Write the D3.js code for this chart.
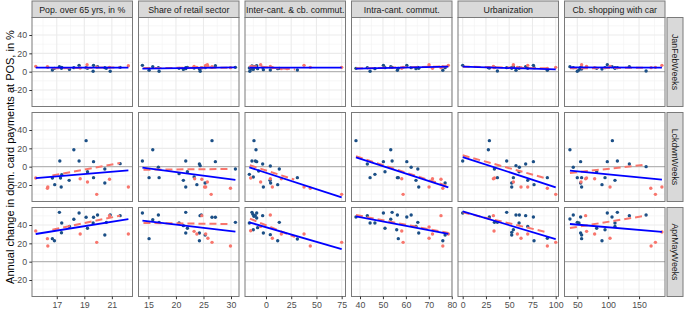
<!DOCTYPE html>
<html><head><meta charset="utf-8">
<script src="https://cdn.jsdelivr.net/npm/d3@7"></script>
<style>body{margin:0;background:#fff}svg{display:block;font-family:"Liberation Sans",Arial,sans-serif}</style>
</head><body><div id="chart"></div>
<script>
// ---- Data ----
const variables = ["Pop. over 65 yrs, in %","Share of retail sector","Inter-cant. & cb. commut.","Intra-cant. commut.","Urbanization","Cb. shopping with car"];
const periods = ["JanFebWeeks","LckdwnWeeks","AprMayWeeks"];
const yTicks = [-20,0,20,40];
const yLimits = [-38,59.1];
const xTicks = [[17,19,21],[15,20,25,30],[0,25,50,75],[40,50,60,70,80],[0,25,50,75,100],[50,100,150]];
const xMinor = [[16,18,20,22],[17.5,22.5,27.5],[-12.5,12.5,37.5,62.5],[45,55,65,75],[12.5,37.5,62.5,87.5],[75,125,175]];
const xLimits = [[15.2,22.5],[13.2,31.45],[-20.8,78.8],[36.3,80.1],[-5.05,103],[29.3,192]];
const yMinor = [-30,-10,10,30,50];

// points: [x, y, group]  b = blue, r = red
const jan_pop = [[17.19,5.5,"b"],[17.36,4.7,"b"],[17.34,3.6,"b"],[16.68,1.8,"b"],[16.83,3.6,"b"],[17.92,2.5,"b"],[18.24,4.4,"b"],[18.62,6.9,"b"],[19.13,4.4,"b"],[19.23,3.6,"b"],[19.67,6.9,"b"],[19.96,5.5,"b"],[19.64,0.4,"b"],[20.49,4.4,"b"],[20.88,0.4,"b"],[21.6,4.7,"b"],[20.6,3.6,"b"],
 [15.47,5.8,"r"],[16.32,5.5,"r"],[16.35,4.7,"r"],[18.7,4,"r"],[19.9,5,"r"],[20.83,4.7,"r"],[22.2,6.5,"r"],[19.2,7.6,"r"]];
const jan_retail = [[13.91,6.9,"b"],[15.12,1.5,"b"],[15.79,5.5,"b"],[16.81,4.4,"b"],[16.94,0.4,"b"],[20.57,3.6,"b"],[21.35,2.5,"b"],[21.78,4.4,"b"],[21.78,3.3,"b"],[22.08,4.7,"b"],[24.26,2.9,"b"],[24.4,0.4,"b"],[24.6,4,"b"],[25.3,4.4,"b"],[26.55,4.7,"b"],[27.16,6.5,"b"],[30.8,4.7,"b"],[23.3,4,"b"],
 [23.3,5.8,"r"],[23.8,4.7,"r"],[25.4,6.9,"r"],[25.7,7.6,"r"],[25.8,5.8,"r"],[26.55,5.5,"r"],[29.9,4.4,"r"],[24.7,4.4,"r"]];
const jan_inter = [[-13.9,6.2,"b"],[-12.9,5.5,"b"],[-11.9,4.7,"b"],[-10.6,5.8,"b"],[-9.2,4.4,"b"],[-16.5,4,"b"],[-12.6,2.5,"b"],[-8.3,3.3,"b"],[-9.2,6.5,"b"],[-3.3,4.7,"b"],[-2.6,2.2,"b"],[4.3,1.8,"b"],[11.6,3.3,"b"],[13.2,3.6,"b"],[31.1,1.8,"b"],[-16,0.4,"b"],[-14.5,2.9,"b"],
 [-15.2,5.5,"r"],[-5.3,7.6,"r"],[4.3,5.8,"r"],[6.3,4.4,"r"],[15.2,3.3,"r"],[37.7,6.9,"r"],[43.9,4.7,"r"],[75,4.7,"r"],[21,3.3,"r"]];
const jan_intra = [[38.25,3.6,"b"],[43.2,4.4,"b"],[44.4,0.4,"b"],[46.5,3.3,"b"],[50.2,6.9,"b"],[50.9,4.4,"b"],[53.4,5.5,"b"],[54,4.7,"b"],[56.3,1.5,"b"],[56.7,3.6,"b"],[60.4,6.9,"b"],[62.3,4.4,"b"],[64.4,3.3,"b"],[65.2,4.7,"b"],[65.6,3.6,"b"],[76.1,1.5,"b"],[77.1,4.4,"b"],
 [58.2,3.6,"r"],[58.8,4.7,"r"],[70.1,7.6,"r"],[70.1,5.5,"r"],[71.6,3.6,"r"],[75.3,4.4,"r"],[76.1,5.5,"r"],[78.5,6.9,"r"]];
const jan_urban = [[0,6.9,"b"],[28.7,4,"b"],[34.1,4.7,"b"],[37.3,0.7,"b"],[47.3,4.4,"b"],[52.7,3.6,"b"],[52.7,4.7,"b"],[54.5,5.5,"b"],[57.3,1.5,"b"],[60.9,4.4,"b"],[60.6,3.6,"b"],[67.7,5.5,"b"],[69.9,3.6,"b"],[76,6.9,"b"],[76.7,4.4,"b"],[91,1.5,"b"],[27.6,4.4,"b"],
 [33,5.8,"r"],[33.7,4.4,"r"],[54.5,7.6,"r"],[58.8,4.7,"r"],[62.7,4.4,"r"],[69.9,6.9,"r"],[91,3.6,"r"],[100,4.7,"r"]];
const jan_car = [[38.1,5.5,"b"],[43.5,4.4,"b"],[50,0.4,"b"],[52.7,1.8,"b"],[55.4,3.6,"b"],[55.4,4.7,"b"],[57,2.9,"b"],[57,4.4,"b"],[81.4,3.6,"b"],[90,2.9,"b"],[94.9,4.4,"b"],[98.6,7.6,"b"],[106.2,5.5,"b"],[111,4.4,"b"],[111,3.6,"b"],[114.9,4.4,"b"],[134.3,5.5,"b"],[161.4,0.7,"b"],
 [57,7.6,"r"],[65,5.8,"r"],[78.1,4.4,"r"],[103,5.8,"r"],[169.5,4.4,"r"],[176.5,4.7,"r"],[187,6.9,"r"]];

const lck_pop = [[17.22,6.2,"b"],[16.85,-19.6,"b"],[16.68,-12.4,"b"],[17.27,-12.4,"b"],[17.32,-22.2,"b"],[17.36,-8.7,"b"],[17.9,-14.9,"b"],[18.24,18.5,"b"],[18.62,6.2,"b"],[19.13,28.4,"b"],[19.23,-5.5,"b"],[19.67,5.5,"b"],[19.67,-12,"b"],[20.49,-17.8,"b"],[20.49,-2.5,"b"],[21.6,3.3,"b"],
 [15.47,-12.4,"r"],[16.35,-22.2,"r"],[16.32,-23.6,"r"],[18.7,-13.1,"r"],[19.23,-16.7,"r"],[19.9,-30.2,"r"],[20.83,-13.8,"r"],[22.2,-22.2,"r"]];
const lck_retail = [[13.91,6.2,"b"],[15.12,-12,"b"],[15.79,18.5,"b"],[16.81,-0.7,"b"],[16.94,-12,"b"],[20.57,-7.6,"b"],[21.35,-14.9,"b"],[21.78,-22.2,"b"],[21.78,6.2,"b"],[22.08,-5.5,"b"],[23.3,-11.3,"b"],[23.8,-19.6,"b"],[24.26,2.9,"b"],[24.4,1.1,"b"],[25.3,-17.8,"b"],[26.55,28.4,"b"],[27.16,5.5,"b"],[30.8,-2.5,"b"],
 [23.4,-13.1,"r"],[24.7,-13.8,"r"],[25.4,-22.2,"r"],[25.7,-16.7,"r"],[26.4,-30.2,"r"],[29.9,-23.6,"r"],[25.2,-22.2,"r"]];
const lck_inter = [[-11.9,28.4,"b"],[-9.9,18.5,"b"],[-13.9,6.2,"b"],[-9.2,5.5,"b"],[-3.3,2.9,"b"],[-16.5,-8.4,"b"],[-12.6,-11.3,"b"],[-7.3,-4.7,"b"],[4.3,0.7,"b"],[4,-14.9,"b"],[-2.6,-22.2,"b"],[11.6,-19.6,"b"],[13.2,-2.5,"b"],[31.1,-12,"b"],[4.6,-17.8,"b"],[-10.5,6.2,"b"],
 [-15.2,-12.4,"r"],[-5.3,-16.7,"r"],[4.3,-13.1,"r"],[6.3,-22.2,"r"],[15.2,-13.1,"r"],[37.7,-22.2,"r"],[43.9,-23.6,"r"],[75,-30.2,"r"]];
const lck_intra = [[38.25,28.4,"b"],[43.2,2.9,"b"],[44.4,-12,"b"],[46.5,-8.4,"b"],[50.2,5.5,"b"],[50.9,-5.5,"b"],[53.4,18.5,"b"],[54,6.2,"b"],[56.3,-12,"b"],[56.7,-12,"b"],[60.4,5.5,"b"],[62.3,-0.7,"b"],[64.4,-14.9,"b"],[65.2,-2.5,"b"],[65.6,-22.2,"b"],[77.1,-17.8,"b"],
 [58.2,-13.1,"r"],[58.8,-30.2,"r"],[70.1,-22.2,"r"],[71.6,-13.1,"r"],[75.3,-13.8,"r"],[76.1,-23.6,"r"]];
const lck_urban = [[0,6.2,"b"],[28.7,28.4,"b"],[27.6,18.5,"b"],[34.1,-2.5,"b"],[37.3,-12,"b"],[47.3,6.2,"b"],[52.7,-17.8,"b"],[52.7,-22.2,"b"],[54.5,-12,"b"],[57.3,1.1,"b"],[60.9,-0.7,"b"],[60.6,-5.5,"b"],[67.7,2.9,"b"],[69.9,-14.9,"b"],[76,5.5,"b"],[76.7,-19.6,"b"],[91,-12,"b"],
 [33,-13.1,"r"],[34.2,-12.4,"r"],[54.5,-16.7,"r"],[62.7,-22.2,"r"],[69.9,-22.2,"r"],[91,-23.6,"r"],[100,-30.2,"r"]];
const lck_car = [[38.1,18.5,"b"],[43.5,-0.7,"b"],[55.4,5.5,"b"],[50,-12,"b"],[57,-12,"b"],[57,-22.2,"b"],[55.4,-17.8,"b"],[81.4,-5.5,"b"],[90,-19.6,"b"],[94.9,-12,"b"],[98.6,5.5,"b"],[106.8,28.4,"b"],[111,-14.9,"b"],[114.9,6.2,"b"],[134.3,2.9,"b"],[161.4,0,"b"],
 [63.5,-13.1,"r"],[65,-12.4,"r"],[78.1,-13.1,"r"],[56,-16.7,"r"],[103,-22.2,"r"],[169,-23.6,"r"],[176.5,-30.2,"r"],[187,-22.2,"r"]];

const apr_pop = [[17.19,53.8,"b"],[17.36,42.2,"b"],[17.34,31.6,"b"],[16.68,25.1,"b"],[16.83,22.9,"b"],[17.92,38.5,"b"],[18.24,46.2,"b"],[18.62,53.1,"b"],[19.13,48.4,"b"],[19.23,36.4,"b"],[19.67,48.4,"b"],[19.96,50.9,"b"],[19.64,42.2,"b"],[20.49,29.1,"b"],[20.88,50.9,"b"],[21.6,50.2,"b"],[20.6,42.9,"b"],
 [15.47,33.5,"r"],[16.32,25.1,"r"],[16.35,17.1,"r"],[18.7,30.2,"r"],[19.9,21.1,"r"],[20.83,50.2,"r"],[22.2,30.2,"r"]];
const apr_retail = [[13.91,53.1,"b"],[15.12,25.1,"b"],[15.79,45.8,"b"],[16.81,50.9,"b"],[16.94,42.9,"b"],[20.57,42.2,"b"],[21.35,39.3,"b"],[21.78,53.8,"b"],[21.78,31.3,"b"],[22.08,36.4,"b"],[24.26,31.3,"b"],[24.26,22.9,"b"],[24.38,50.2,"b"],[24.6,50.9,"b"],[25.3,29.1,"b"],[26.55,48.4,"b"],[27.16,48.4,"b"],[30.8,42.9,"b"],
 [24.7,50.2,"r"],[23.3,33.1,"r"],[23.8,30.2,"r"],[25.4,30.2,"r"],[25.8,25.5,"r"],[26.55,21.1,"r"],[29.9,17.1,"r"]];
const apr_inter = [[-13.9,53.8,"b"],[-12.9,51.6,"b"],[-11.9,49.5,"b"],[-10.6,50.2,"b"],[-9.2,47.6,"b"],[-16.5,42.2,"b"],[-12.6,34.9,"b"],[-8.3,37.1,"b"],[-9.2,53.1,"b"],[-3.3,50.2,"b"],[-2.6,31.3,"b"],[4.3,29.5,"b"],[11.6,22.9,"b"],[13.2,42.9,"b"],[31.1,24.7,"b"],
 [-15.2,33.8,"r"],[4.3,50.9,"r"],[6.3,25.5,"r"],[15.2,30.2,"r"],[37.7,30.2,"r"],[43.9,17.1,"r"],[75,21.1,"r"],[-5.3,38.5,"r"]];
const apr_intra = [[38.25,48.7,"b"],[43.2,50.2,"b"],[44.4,42.2,"b"],[46.5,42.2,"b"],[50.2,53.1,"b"],[50.9,36.4,"b"],[53.4,46.2,"b"],[54,53.8,"b"],[56.3,50.9,"b"],[56,34.9,"b"],[56.7,25.1,"b"],[60.4,48.7,"b"],[62.3,50.9,"b"],[64.4,38.5,"b"],[65.2,42.9,"b"],[65.6,31.3,"b"],[76.1,22.9,"b"],[77.1,29.1,"b"],
 [58.2,33.5,"r"],[58.8,21.1,"r"],[70.1,37.8,"r"],[70.1,25.5,"r"],[71.6,30.2,"r"],[75.3,50.2,"r"],[76.1,17.1,"r"],[78.5,30.2,"r"]];
const apr_urban = [[0,53.1,"b"],[28.7,48.7,"b"],[34.1,42.9,"b"],[37.3,42.9,"b"],[47.3,53.8,"b"],[52.7,32,"b"],[52.7,29.1,"b"],[54.5,34.9,"b"],[57.3,50.9,"b"],[60.9,50.9,"b"],[60.6,42.2,"b"],[67.7,50.2,"b"],[69.9,38.5,"b"],[76,48.7,"b"],[76.7,22.9,"b"],[91,25.5,"b"],
 [33,50.2,"r"],[33.7,33.5,"r"],[58.8,30.2,"r"],[62.7,25.5,"r"],[69.9,30.2,"r"],[91,17.1,"r"],[100,21.1,"r"]];
const apr_car = [[38.1,46.5,"b"],[43.5,50.9,"b"],[50,42.9,"b"],[52.7,42.2,"b"],[55.4,48.7,"b"],[55.4,31.3,"b"],[57,29.1,"b"],[57,25.1,"b"],[81.4,36.4,"b"],[90,22.9,"b"],[94.9,34.9,"b"],[98.6,53.1,"b"],[106.2,48.7,"b"],[111,42.2,"b"],[111,38.5,"b"],[114.9,53.8,"b"],[134.3,50.2,"b"],[161.4,50.9,"b"],
 [63.5,50.2,"r"],[65.1,33.1,"r"],[78.1,30.2,"r"],[103,25.5,"r"],[169.5,17.1,"r"],[176.5,21.1,"r"],[187,32.4,"r"]];

// fitted lines [[x1,y1],[x2,y2]]: solid blue and dashed red, per period row and variable column
const blueFitJan = [[[15.47,4.4],[22.2,4.4]],[[13.91,3.3],[30.8,4.7]],[[-16.5,4.4],[75,4.4]],[[38.25,3.3],[78.5,5.5]],[[0,5.5],[100,2.5]],[[38.1,4.7],[187,4.4]]];
const redFitJan  = [[[16.68,3.6],[21.6,4.7]],[[14.1,4.0],[29.9,4.4]],[[-15.9,6.2],[28.7,2.5]],[[38.25,3.6],[78.5,5.8]],[[0,5.5],[91,3.6]],[[38.1,3.6],[161.4,4.4]]];
const blueFitLck = [[[15.47,-12.4],[22.2,-4]],[[13.91,-1.1],[30.8,-14.5]],[[-16.5,-0.7],[75,-33.5]],[[38.25,10.2],[78.5,-22.5]],[[0,10.5],[100,-22.5]],[[38.1,-4.4],[187,-14.2]]];
const redFitLck  = [[[16.68,-9.5],[21.6,4]],[[14.1,-3.3],[29.9,-2.5]],[[-16,1.5],[28,-14]],[[38.25,11.3],[78.5,-21.5]],[[0,12.4],[91,-13.1]],[[38.1,-6.9],[161.4,2.2]]];
const blueFitApr = [[[15.47,30.2],[22.2,46.5]],[[13.91,44.7],[30.8,32.7]],[[-16.5,42.9],[75,13.8]],[[38.25,49.5],[78.5,30.2]],[[0,54.9],[100,24.7]],[[38.1,41.1],[187,32.4]]];
const redFitApr  = [[[16.68,34.9],[21.6,50.2]],[[14.1,42.2],[29.9,41.1]],[[-15.9,46.9],[28.7,26.9]],[[38.25,50.9],[78.5,31.3]],[[0,53.8],[91,32]],[[38.1,36.7],[161.4,50.2]]];

const pointRows = [[jan_pop,jan_retail,jan_inter,jan_intra,jan_urban,jan_car],
                   [lck_pop,lck_retail,lck_inter,lck_intra,lck_urban,lck_car],
                   [apr_pop,apr_retail,apr_inter,apr_intra,apr_urban,apr_car]];
const blueFits = [blueFitJan, blueFitLck, blueFitApr];
const redFits = [redFitJan, redFitLck, redFitApr];
const yTitle = "Annual change in dom. card payments at POS, in %";

// ---- Layout ----
const W = 685, H = 310;
const left0 = 32, panelW = 100.5, gapX = 6;
const top0 = 17.5, panelH = 89, gapY = 6;
const colors = {b:"#1b4f86", r:"#F8766D"};

const svg = d3.select("#chart").append("svg").attr("width", W).attr("height", H);

const yScale = d3.scaleLinear().domain(yLimits).range([panelH, 0]);

for (let r = 0; r < 3; r++) {
  for (let c = 0; c < 6; c++) {
    const px = left0 + c*(panelW+gapX), py = top0 + r*(panelH+gapY);
    const xs = d3.scaleLinear().domain(xLimits[c]).range([0, panelW]);
    const g = svg.append("g").attr("transform", `translate(${px},${py})`);
    g.append("rect").attr("width", panelW).attr("height", panelH).attr("fill", "#fff");
    // minor grid
    g.selectAll(".ymin").data(yMinor.filter(v=>v>yLimits[0]&&v<yLimits[1])).enter().append("line")
      .attr("x1",0).attr("x2",panelW).attr("y1",d=>yScale(d)).attr("y2",d=>yScale(d))
      .attr("stroke","#f2f2f2").attr("stroke-width",0.6);
    g.selectAll(".xmin").data(xMinor[c].filter(v=>v>xLimits[c][0]&&v<xLimits[c][1])).enter().append("line")
      .attr("y1",0).attr("y2",panelH).attr("x1",d=>xs(d)).attr("x2",d=>xs(d))
      .attr("stroke","#f2f2f2").attr("stroke-width",0.6);
    // major grid
    g.selectAll(".ymaj").data(yTicks).enter().append("line")
      .attr("x1",0).attr("x2",panelW).attr("y1",d=>yScale(d)).attr("y2",d=>yScale(d))
      .attr("stroke","#ebebeb").attr("stroke-width",1.1);
    g.selectAll(".xmaj").data(xTicks[c]).enter().append("line")
      .attr("y1",0).attr("y2",panelH).attr("x1",d=>xs(d)).attr("x2",d=>xs(d))
      .attr("stroke","#ebebeb").attr("stroke-width",1.1);
    // zero line
    g.append("line").attr("x1",0).attr("x2",panelW).attr("y1",yScale(0)).attr("y2",yScale(0))
      .attr("stroke","#ababab").attr("stroke-width",1);
    // points
    g.selectAll("circle").data(pointRows[r][c]).enter().append("circle")
      .attr("cx",d=>xs(d[0])).attr("cy",d=>yScale(d[1])).attr("r",1.7)
      .attr("fill",d=>colors[d[2]]);
    const line = d3.line().x(d=>xs(d[0])).y(d=>yScale(d[1]));
    g.append("path").attr("d", line(redFits[r][c])).attr("fill","none")
      .attr("stroke","#F8766D").attr("stroke-width",2).attr("stroke-dasharray","7,4");
    g.append("path").attr("d", line(blueFits[r][c])).attr("fill","none")
      .attr("stroke","#0000ff").attr("stroke-width",1.8);
    // border
    g.append("rect").attr("width", panelW).attr("height", panelH).attr("fill","none")
      .attr("stroke","#7a7a7a").attr("stroke-width",1);

    // axes
    if (c === 0) {
      const ax = d3.axisLeft(yScale).tickValues(yTicks).tickSize(2.7).tickPadding(2.2);
      const ag = g.append("g").call(ax);
      ag.select(".domain").remove();
      ag.selectAll("line").attr("stroke","#333");
      ag.selectAll("text").attr("fill","#4d4d4d").style("font-size","8.8px").style("font-family","Liberation Sans, Arial, sans-serif");
    }
    if (r === 2) {
      const ax = d3.axisBottom(xs).tickValues(xTicks[c]).tickSize(2.7).tickPadding(2.2);
      const ag = g.append("g").attr("transform",`translate(0,${panelH})`).call(ax);
      ag.select(".domain").remove();
      ag.selectAll("line").attr("stroke","#333");
      ag.selectAll("text").attr("fill","#4d4d4d").style("font-size","8.8px").style("font-family","Liberation Sans, Arial, sans-serif");
    }
    // top strips
    if (r === 0) {
      svg.append("rect").attr("x",px).attr("y",1).attr("width",panelW).attr("height",top0-1)
        .attr("fill","#d9d9d9").attr("stroke","#7a7a7a").attr("stroke-width",1);
      svg.append("text").attr("x",px+panelW/2).attr("y",12.6).attr("text-anchor","middle")
        .attr("fill","#1a1a1a").style("font-size","8.8px").text(variables[c]);
    }
  }
  // right strips
  const sx = left0 + 6*(panelW+gapX) - gapX + 2, py = top0 + r*(panelH+gapY);
  svg.append("rect").attr("x",sx).attr("y",py).attr("width",16).attr("height",panelH)
    .attr("fill","#d9d9d9").attr("stroke","#7a7a7a").attr("stroke-width",1);
  svg.append("text").attr("transform",`translate(${sx+8-3.2},${py+panelH/2}) rotate(90)`)
    .attr("text-anchor","middle").attr("fill","#1a1a1a").style("font-size","8.8px").text(periods[r]);
}

svg.append("text").attr("transform",`translate(13.5,${top0 + (3*panelH+2*gapY)/2}) rotate(-90)`)
  .attr("text-anchor","middle").attr("fill","#000").style("font-size","11px").text(yTitle);
</script></body></html>
